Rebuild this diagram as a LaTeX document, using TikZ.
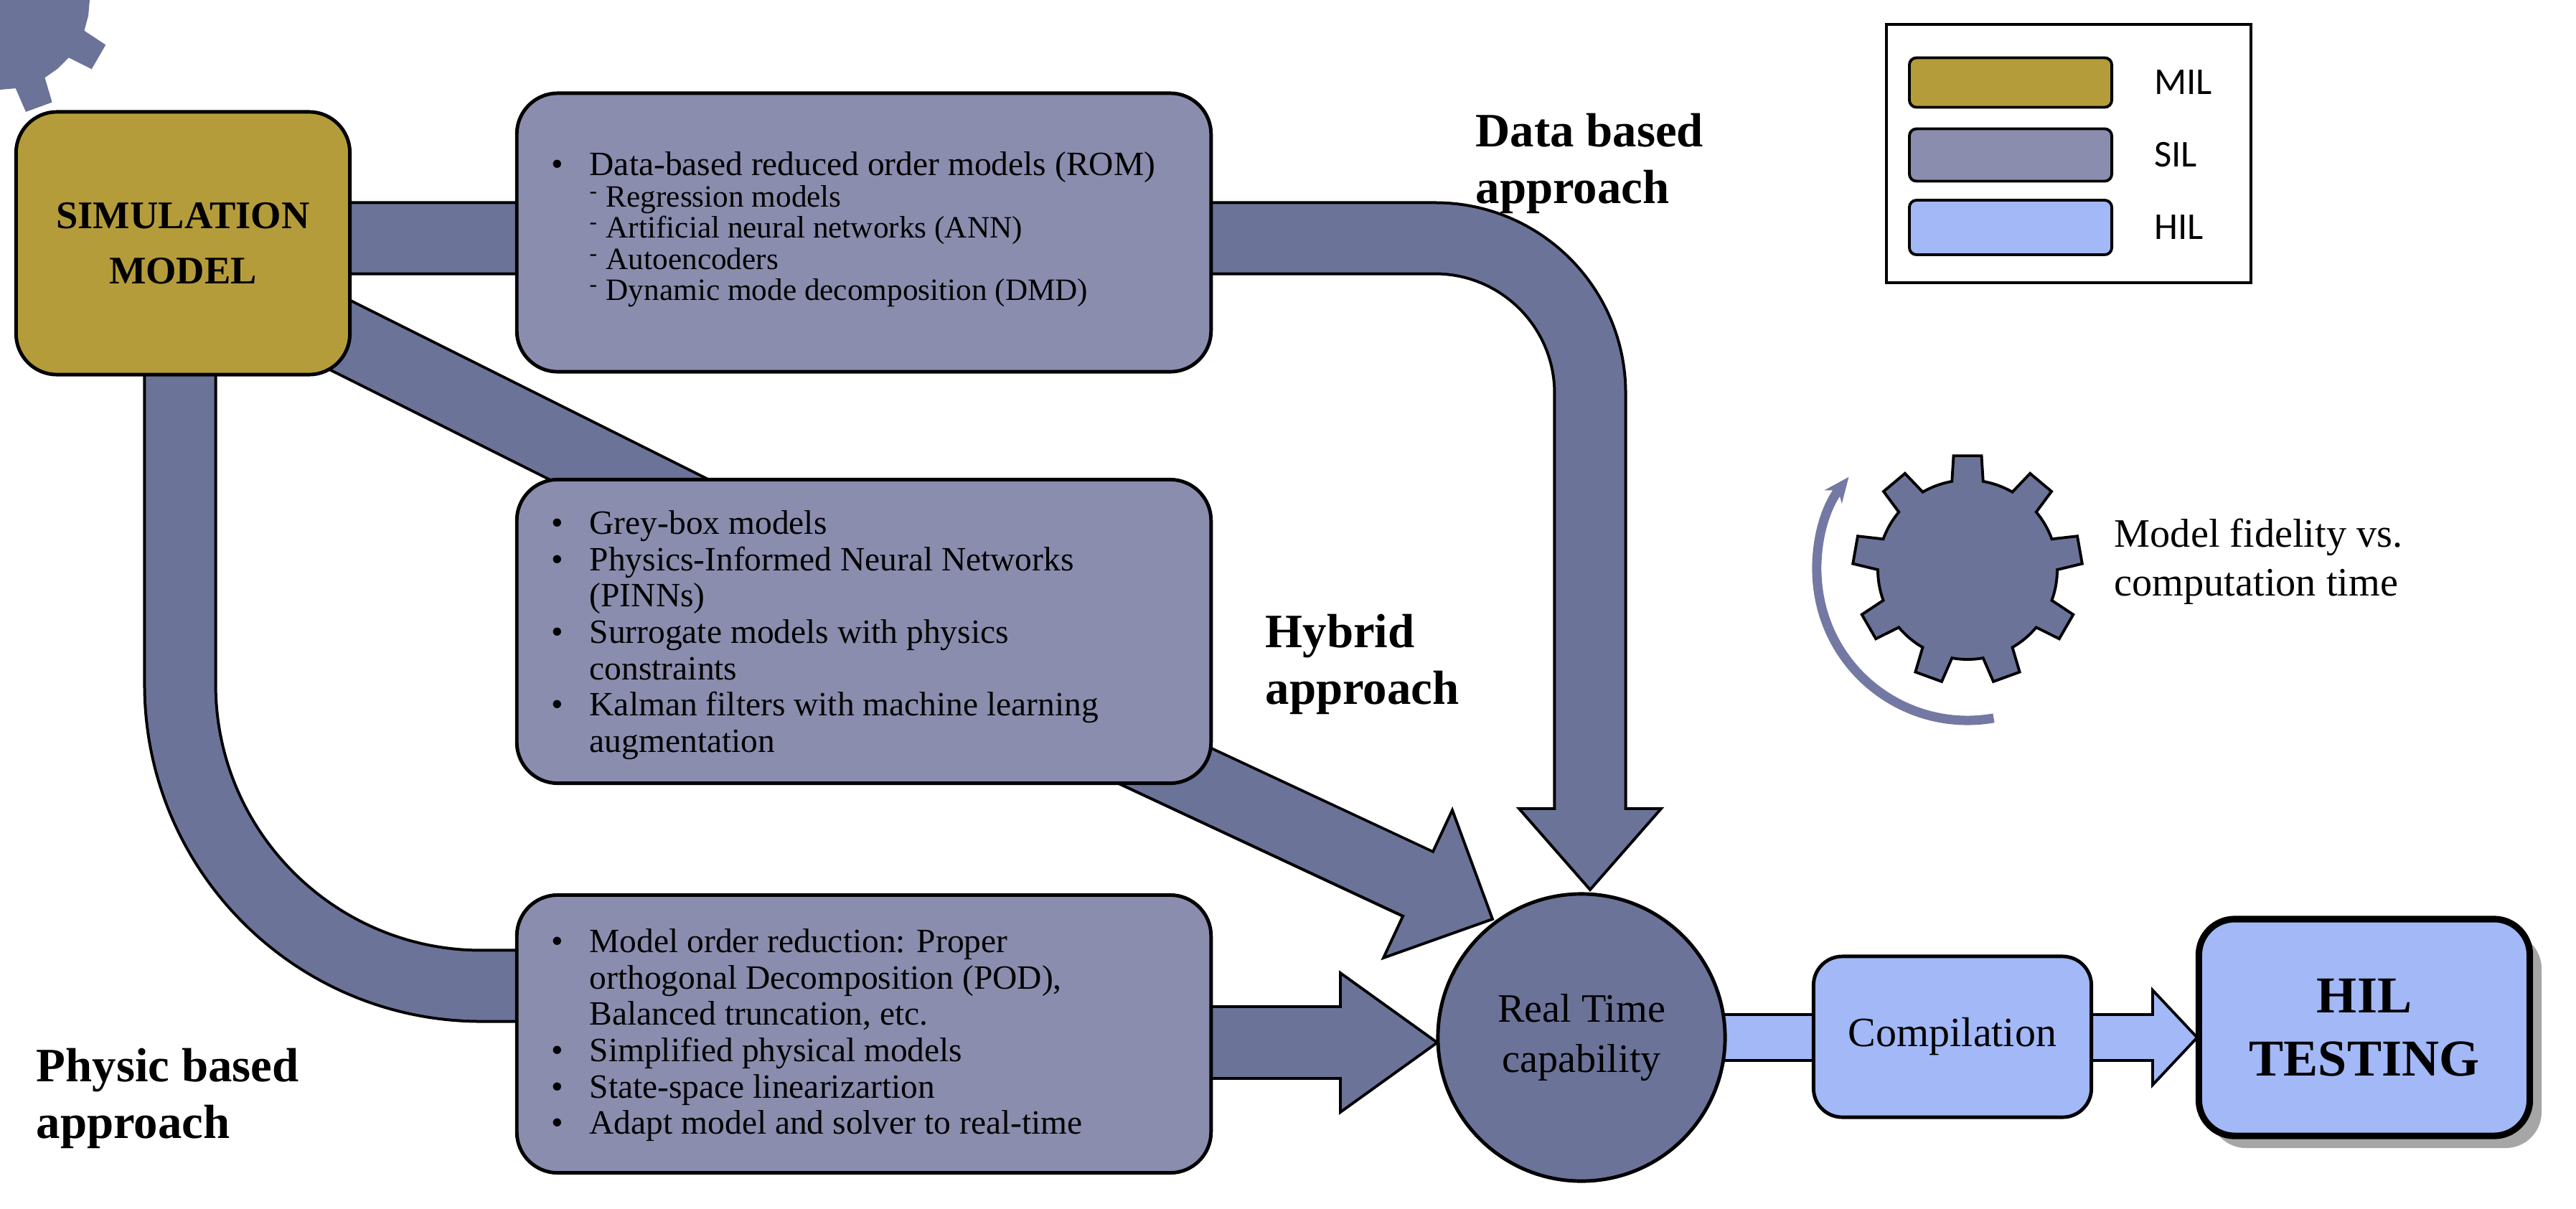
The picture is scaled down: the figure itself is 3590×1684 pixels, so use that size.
\documentclass[tikz,border=0pt]{standalone}
\usepackage{fontspec}
\setmainfont{Liberation Serif}
\newfontfamily\sansf{Carlito}
\usetikzlibrary{arrows.meta}
\definecolor{mil}{HTML}{B59C3B}
\definecolor{sil}{HTML}{8A8DAD}
\definecolor{band}{HTML}{6C7399}
\definecolor{hil}{HTML}{A2B8F7}
\definecolor{arcc}{HTML}{7479A3}
\newcommand{\bl}[1]{\makebox[0.53cm][l]{\textbullet}#1}
\newcommand{\cn}[1]{\hspace*{0.53cm}#1}
\newcommand{\sbi}[1]{\hspace*{0.53cm}\makebox[0.23cm][l]{\raisebox{0.55ex}{\fontsize{9}{9}\selectfont -}}{\fontsize{12.3}{14}\selectfont #1}}
\tikzset{
  outer/.style={draw=black,line width=1.03cm},
  inner/.style={draw=band,line width=0.95cm},
  head/.style={fill=band,draw=black,line width=1.1pt,line join=miter},
  box/.style={draw=black,line width=1.4pt,rounded corners=0.57cm},
  txt/.style={anchor=north west,inner sep=0pt,align=left,font=\fontsize{13.5}{14.4}\selectfont},
  lbl/.style={anchor=west,inner sep=0pt,align=left,font=\bfseries\fontsize{19}{22.5}\selectfont},
}
\begin{document}
\begin{tikzpicture}[x=0.01cm,y=0.01cm]
\useasboundingbox (0,0) rectangle (3590,-1684);
% connection points
\coordinate (dS) at (400,-332);
\coordinate (dB) at (2216,-1127);
\coordinate (dE) at (2216,-1135);
\coordinate (gS) at (300,-380);
\coordinate (gE) at (1000,-730);
\coordinate (pS) at (251,-450);
\coordinate (pE) at (800,-1374);
\coordinate (hS) at (1432,-978);
\coordinate (hB) at (1976,-1232);
\coordinate (hE) at (1983,-1235);
\coordinate (mS) at (1600,-1453);
\coordinate (mB) at (1868,-1453);
\coordinate (mE) at (1876,-1453);
% bands: borders
\draw[outer] (dS) -- (2000,-332) arc(90:0:216) -- (dB);
\draw[outer] (gS) -- (gE);
\draw[outer] (pS) -- (251,-954) arc(180:270:420) -- (pE);
\draw[outer] (hS) -- (hB);
\draw[outer] (mS) -- (mB);
% heads
\draw[head] (2117,-1127) -- (2216,-1240) -- (2315,-1127) -- cycle;
\draw[head] (2024,-1129) -- (2080,-1281) -- (1928,-1335) -- cycle;
\draw[head] (1868,-1356) -- (2003,-1453) -- (1868,-1550) -- cycle;
% bands: fill
\draw[inner] (dS) -- (2000,-332) arc(90:0:216) -- (dE);
\draw[inner] (gS) -- (gE);
\draw[inner] (pS) -- (251,-954) arc(180:270:420) -- (pE);
\draw[inner] (hS) -- (hE);
\draw[inner] (mS) -- (mE);
% boxes
\node[box,fill=mil,minimum width=4.65cm,minimum height=3.66cm,align=center,font=\bfseries\fontsize{15.5}{22}\selectfont] (sim) at (255,-339) {SIMULATION\\MODEL};
\node[box,fill=sil,minimum width=9.67cm,minimum height=3.88cm] (rom) at (1204,-324) {};
\node[box,fill=sil,minimum width=9.67cm,minimum height=4.23cm] (grey) at (1204,-880) {};
\node[box,fill=sil,minimum width=9.67cm,minimum height=3.87cm] (mor) at (1204,-1441) {};
\node[txt] (romt) at (768,-211) {\bl{Data-based reduced order models (ROM)}\\[-0.15em]
\sbi{Regression models}\\[-0.15em]
\sbi{Artificial neural networks (ANN)}\\[-0.15em]
\sbi{Autoencoders}\\[-0.15em]
\sbi{Dynamic mode decomposition (DMD)}};
\node[txt] (greyt) at (768,-711) {\bl{Grey-box models}\\
\bl{Physics-Informed Neural Networks}\\
\cn{(PINNs)}\\
\bl{Surrogate models with physics}\\
\cn{constraints}\\
\bl{Kalman filters with machine learning}\\
\cn{augmentation}};
\node[txt] (mort) at (768,-1294) {\bl{Model order reduction: Proper}\\
\cn{orthogonal Decomposition (POD),}\\
\cn{Balanced truncation, etc.}\\
\bl{Simplified physical models}\\
\bl{State-space linearizartion}\\
\bl{Adapt model and solver to real-time}};
% real time circle and chain
\draw[draw=black,line width=0.68cm] (2380,-1446) -- (2540,-1446);
\draw[draw=hil,line width=0.6cm] (2380,-1446) -- (2540,-1446);
\draw[draw=black,line width=0.68cm] (2900,-1446) -- (3000,-1446);
\draw[fill=hil,draw=black,line width=1.1pt,line join=miter] (3000,-1380) -- (3062,-1446) -- (3000,-1512) -- cycle;
\draw[draw=hil,line width=0.6cm] (2900,-1446) -- (3007,-1446);
\node[circle,fill=band,draw=black,line width=1.4pt,minimum size=4.0cm,align=center,font=\fontsize{16}{20}\selectfont] (rt) at (2204,-1446) {Real Time\\capability};
\node[box,fill=hil,rounded corners=0.4cm,minimum width=3.87cm,minimum height=2.24cm,font=\fontsize{16.5}{20}\selectfont] (comp) at (2721,-1445) {Compilation};
\fill[black!35,rounded corners=0.5cm] (3080,-1300) rectangle (3542,-1600);
\node[box,fill=hil,line width=2.6pt,rounded corners=0.5cm,minimum width=4.61cm,minimum height=3.02cm,align=center,font=\bfseries\fontsize{20.5}{25}\selectfont] (hilt) at (3295,-1432) {HIL\\TESTING};
% labels
\node[lbl] (ldata) at (2056,-228) {Data based\\approach};
\node[lbl] (lhyb) at (1763,-926) {Hybrid\\approach};
\node[lbl] (lphy) at (50,-1531) {Physic based\\approach};
% gear
\fill[band] (90-10:125) \foreach \a in {90,130,...,410} { -- (\a-10:125) -- (\a-7:160) -- (\a+7:160) -- (\a+10:125) -- (\a+20:125)} -- cycle;
\coordinate (gc) at (2742,-794);
\draw[black,line width=1.1pt,fill=band,shift={(gc)}] (80:125) \foreach \a in {90,130,...,410} { -- (\a-10:125) -- (\a-7:160) -- (\a+7:160) -- (\a+10:125) arc(\a+10:\a+30:125)} -- cycle;
\draw[arcc,line width=0.13cm,-{Stealth[length=0.35cm,width=0.3cm]},shift={(gc)}] (-80:210) arc(-80:-218:210);
\node[anchor=west,inner sep=0pt,align=left,font=\fontsize{16}{19.3}\selectfont] (gtxt) at (2946,-783) {Model fidelity vs.\\computation time};
% legend
\draw[black,line width=1.1pt] (2629,-34) rectangle (3137,-394);
\node[draw=black,line width=1.1pt,fill=mil,rounded corners=0.1cm,minimum width=2.82cm,minimum height=0.69cm] (kmil) at (2802,-115) {};
\node[draw=black,line width=1.1pt,fill=sil,rounded corners=0.1cm,minimum width=2.82cm,minimum height=0.73cm] (ksil) at (2802,-216) {};
\node[draw=black,line width=1.1pt,fill=hil,rounded corners=0.1cm,minimum width=2.82cm,minimum height=0.76cm] (khil) at (2802,-317) {};
\node[anchor=west,font=\sansf\fontsize{15}{18}\selectfont] at (2990,-115) {MIL};
\node[anchor=west,font=\sansf\fontsize{15}{18}\selectfont] at (2990,-216) {SIL};
\node[anchor=west,font=\sansf\fontsize{15}{18}\selectfont] at (2990,-317) {HIL};
\end{tikzpicture}
\end{document}
